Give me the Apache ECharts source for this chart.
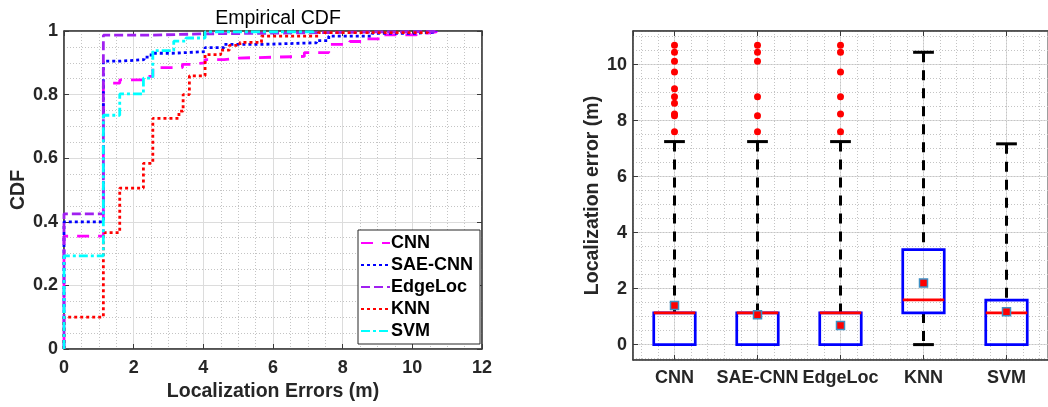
<!DOCTYPE html>
<html>
<head>
<meta charset="utf-8">
<script src="https://cdn.jsdelivr.net/npm/echarts@6/dist/echarts.min.js"></script>
<style>
  html, body { margin: 0; padding: 0; background: #fff; }
  #main { width: 1048px; height: 407px; }
</style>
</head>
<body>
<div id="main"></div>
<script>
// ---- left: empirical CDF, points are [error, cdf]
var cdfCNN = [[0,0],[0,0.355],[1.13,0.836],[1.6,0.846],[2.28,0.857],[2.55,0.885],[3.4,0.895],[3.6,0.9],[4.05,0.91],[4.6,0.915],[5,0.92],[6.9,0.932],[7.6,0.958],[8.2,0.967],[8.6,0.975],[9.1,0.988],[10.1,0.993],[10.44,0.997],[10.69,1]];
var cdfSAE = [[0,0],[0,0.4],[1.13,0.905],[1.6,0.91],[2.3,0.918],[2.5,0.93],[3.1,0.935],[4.05,0.948],[4.6,0.958],[5.7,0.963],[7.25,0.97],[7.6,0.984],[8.85,0.993],[10.12,0.995],[10.44,0.997],[10.69,1]];
var cdfEdge = [[0,0],[0,0.425],[1.13,0.987],[2.5,0.991],[4,0.995],[7.6,0.996],[8.24,0.997],[8.85,0.998],[10.44,0.999],[10.69,1]];
var cdfKNN = [[0,0],[0,0.1],[1.13,0.366],[1.6,0.506],[2.28,0.584],[2.55,0.725],[3.3,0.748],[3.42,0.8],[3.6,0.859],[4.05,0.926],[4.5,0.94],[4.75,0.955],[5.05,0.964],[5.67,0.984],[7.3,0.995],[10.44,1]];
var cdfSVM = [[0,0],[0,0.293],[1.13,0.735],[1.6,0.802],[2.28,0.852],[2.55,0.938],[3.15,0.968],[3.5,0.978],[4.05,0.997],[7.17,1]];

// ---- right: box plot
var boxNames = ['CNN', 'SAE-CNN', 'EdgeLoc', 'KNN', 'SVM'];
var boxLower = [0, 0, 0, 0, 0];
var boxQ1 = [0, 0, 0, 1.13, 0];
var boxMedian = [1.13, 1.13, 1.13, 1.6, 1.13];
var boxQ3 = [1.13, 1.13, 1.13, 3.39, 1.59];
var boxUpper = [7.25, 7.25, 7.25, 10.44, 7.17];
var boxMean = [1.4, 1.07, 0.68, 2.2, 1.17];
var boxOutliers = [
    [7.6, 8.17, 8.24, 8.62, 8.85, 9.14, 9.74, 10.12, 10.44, 10.69],
    [7.6, 8.17, 8.85, 10.12, 10.44, 10.69],
    [7.6, 8.24, 8.85, 9.74, 10.44, 10.69],
    [],
    []
];

var FONT = '"Liberation Sans", Arial, sans-serif';
var TXT = '#262626';
var AXIS = '#3a3a3a';
var MAJOR = '#dcdcdc';
var MINOR = '#c4c4c4';

var boxData = boxNames.map(function (n, i) {
    return [i + 1, boxLower[i], boxQ1[i], boxMedian[i], boxQ3[i], boxUpper[i]];
});
var meanData = boxMean.map(function (v, i) { return [i + 1, v]; });
var outData = [];
boxOutliers.forEach(function (list, i) {
    list.forEach(function (v) { outData.push([i + 1, v]); });
});

function cdfLine(name, data, color, dash) {
    return {
        name: name, type: 'line', data: data, step: 'end',
        xAxisIndex: 0, yAxisIndex: 0,
        symbol: 'none', silent: true,
        lineStyle: { color: color, width: 2.8, type: dash, cap: 'butt' },
        itemStyle: { color: color }
    };
}

var chart = echarts.init(document.getElementById('main'), null, { renderer: 'canvas' });

var option = {
    animation: false,
    textStyle: { fontFamily: FONT },
    title: {
        text: 'Empirical CDF',
        left: 273, top: 4, textAlign: 'center',
        textStyle: { fontSize: 19.5, fontWeight: 'normal', color: '#000', fontFamily: FONT }
    },
    legend: {
        data: ['CNN', 'SAE-CNN', 'EdgeLoc', 'KNN', 'SVM'],
        orient: 'vertical',
        left: 358, top: 230,
        padding: [4, 7, 4, 2],
        itemGap: 4,
        itemWidth: 29, itemHeight: 14,
        backgroundColor: '#fff',
        borderColor: TXT, borderWidth: 1, borderRadius: 0,
        itemStyle: { opacity: 0 },
        textStyle: { fontSize: 18, fontWeight: 'bold', color: '#000', fontFamily: FONT, padding: [0, 0, 0, -4] },
        z: 10
    },
    grid: [
        { left: 64, top: 31, width: 418, height: 320, show: true, borderColor: AXIS, borderWidth: 1 },
        { left: 633, top: 31, width: 418, height: 329, show: true, borderColor: AXIS, borderWidth: 1 }
    ],
    xAxis: [
        {
            gridIndex: 0, type: 'value', min: 0, max: 12, interval: 2,
            name: 'Localization Errors (m)', nameLocation: 'middle', nameGap: 33,
            nameTextStyle: { fontSize: 19.5, fontWeight: 'bold', color: TXT },
            axisLine: { show: true, onZero: false, lineStyle: { color: AXIS, width: 1.5 } },
            axisTick: { show: true, inside: true, length: 5, lineStyle: { color: AXIS } },
            axisLabel: { fontSize: 18, fontWeight: 'bold', color: TXT, margin: 10 },
            splitLine: { show: true, lineStyle: { color: MAJOR, width: 1 } },
            minorTick: { show: false, splitNumber: 4 },
            minorSplitLine: { show: true, lineStyle: { color: MINOR, type: [1, 2], width: 1 } }
        },
        {
            gridIndex: 0, type: 'value', min: 0, max: 12, interval: 2, position: 'top',
            axisLine: { show: true, onZero: false, lineStyle: { color: AXIS, width: 1.5 } },
            axisTick: { show: true, inside: true, length: 5, lineStyle: { color: AXIS } },
            axisLabel: { show: false }, splitLine: { show: false }
        },
        {
            gridIndex: 1, type: 'value', min: 0.5, max: 5.5, splitNumber: 5,
            axisLine: { show: true, onZero: false, lineStyle: { color: AXIS, width: 1.5 } },
            axisTick: { show: true, inside: true, length: 5, lineStyle: { color: AXIS } },
            axisLabel: {
                fontSize: 18, fontWeight: 'bold', color: TXT, margin: 9,
                showMinLabel: false, showMaxLabel: false,
                formatter: function (v) {
                    var i = Math.round(v);
                    return (Math.abs(v - i) < 1e-6 && i >= 1 && i <= 5) ? boxNames[i - 1] : '';
                }
            },
            splitLine: { show: true, lineStyle: { color: MAJOR, width: 1 } }
        },
        {
            gridIndex: 1, type: 'value', min: 0.5, max: 5.5, splitNumber: 5, position: 'top',
            axisLine: { show: true, onZero: false, lineStyle: { color: AXIS, width: 1.5 } },
            axisTick: { show: true, inside: true, length: 5, lineStyle: { color: AXIS } },
            axisLabel: { show: false }, splitLine: { show: false }
        },
        {
            // minor vertical grid, every 0.2 on the box-plot axis (value = 5x)
            gridIndex: 1, type: 'value', min: 2.5, max: 27.5, splitNumber: 25, position: 'top', offset: 30,
            axisLine: { show: false, onZero: false }, axisTick: { show: false }, axisLabel: { show: false },
            splitLine: { show: true, lineStyle: { color: MINOR, type: [1, 2], width: 1 } }
        }
    ],
    yAxis: [
        {
            gridIndex: 0, type: 'value', min: 0, max: 1, interval: 0.2,
            name: 'CDF', nameLocation: 'middle', nameGap: 33,
            nameTextStyle: { fontSize: 19.5, fontWeight: 'bold', color: TXT },
            axisLine: { show: true, onZero: false, lineStyle: { color: AXIS, width: 1.5 } },
            axisTick: { show: true, inside: true, length: 5, lineStyle: { color: AXIS } },
            axisLabel: { fontSize: 18, fontWeight: 'bold', color: TXT, margin: 6 },
            splitLine: { show: true, lineStyle: { color: MAJOR, width: 1 } },
            minorTick: { show: false, splitNumber: 4 },
            minorSplitLine: { show: true, lineStyle: { color: MINOR, type: [1, 2], width: 1 } }
        },
        {
            gridIndex: 0, type: 'value', min: 0, max: 1, interval: 0.2, position: 'right',
            axisLine: { show: true, onZero: false, lineStyle: { color: AXIS, width: 1.5 } },
            axisTick: { show: true, inside: true, length: 5, lineStyle: { color: AXIS } },
            axisLabel: { show: false }, splitLine: { show: false }
        },
        {
            gridIndex: 1, type: 'value', min: -0.55, max: 11.2, splitNumber: 6,
            name: 'Localization error (m)', nameLocation: 'middle', nameGap: 28,
            nameTextStyle: { fontSize: 19.5, fontWeight: 'bold', color: TXT },
            axisLine: { show: true, onZero: false, lineStyle: { color: AXIS, width: 1.5 } },
            axisTick: { show: true, inside: true, length: 5, lineStyle: { color: AXIS } },
            axisLabel: {
                fontSize: 18, fontWeight: 'bold', color: TXT, margin: 6,
                showMinLabel: false, showMaxLabel: false,
                formatter: function (v) {
                    return (Math.abs(v / 2 - Math.round(v / 2)) < 1e-6) ? String(Math.round(v)) : '';
                }
            },
            splitLine: { show: true, lineStyle: { color: MAJOR, width: 1 } }
        },
        {
            // minor horizontal grid, every 0.5 (value = 2y)
            gridIndex: 1, type: 'value', min: -1.1, max: 22.4, splitNumber: 24, position: 'right', offset: 40,
            axisLine: { show: false, onZero: false }, axisTick: { show: false }, axisLabel: { show: false },
            splitLine: { show: true, lineStyle: { color: MINOR, type: [1, 2], width: 1 } }
        }
    ],
    series: [
        cdfLine('CNN', cdfCNN, '#ff00ff', [12, 9]),
        cdfLine('SAE-CNN', cdfSAE, '#0000ff', [3, 3]),
        cdfLine('EdgeLoc', cdfEdge, '#a020f0', [9, 4]),
        cdfLine('KNN', cdfKNN, '#ff0000', [3, 3]),
        cdfLine('SVM', cdfSVM, '#00ffff', [9, 3, 3, 3]),
        {
            type: 'custom', xAxisIndex: 2, yAxisIndex: 2, silent: true,
            data: boxData, z: 3,
            renderItem: function (params, api) {
                var x = api.value(0);
                var lo = api.value(1), q1 = api.value(2), med = api.value(3), q3 = api.value(4), hi = api.value(5);
                var halfBox = api.size([0.25, 0])[0];
                var halfCap = api.size([0.125, 0])[0];
                var pLo = api.coord([x, lo]), pQ1 = api.coord([x, q1]), pMed = api.coord([x, med]);
                var pQ3 = api.coord([x, q3]), pHi = api.coord([x, hi]);
                var cx = pMed[0];
                var dashStyle = { stroke: '#000', lineWidth: 3, lineDash: [10, 8] };
                var capStyle = { stroke: '#000', lineWidth: 3 };
                var children = [];
                children.push({ type: 'line', shape: { x1: cx, y1: pHi[1], x2: cx, y2: pQ3[1] }, style: dashStyle });
                children.push({ type: 'line', shape: { x1: cx - halfCap, y1: pHi[1], x2: cx + halfCap, y2: pHi[1] }, style: capStyle });
                if (q1 > lo) {
                    children.push({ type: 'line', shape: { x1: cx, y1: pQ1[1], x2: cx, y2: pLo[1] }, style: dashStyle });
                    children.push({ type: 'line', shape: { x1: cx - halfCap, y1: pLo[1], x2: cx + halfCap, y2: pLo[1] }, style: capStyle });
                }
                children.push({
                    type: 'rect',
                    shape: { x: cx - halfBox, y: pQ3[1], width: halfBox * 2, height: pQ1[1] - pQ3[1] },
                    style: { fill: 'none', stroke: '#0000ff', lineWidth: 2.7 }
                });
                children.push({ type: 'line', shape: { x1: cx - halfBox, y1: pMed[1], x2: cx + halfBox, y2: pMed[1] }, style: { stroke: '#ff0000', lineWidth: 2.7 } });
                return { type: 'group', children: children };
            }
        },
        {
            type: 'scatter', xAxisIndex: 2, yAxisIndex: 2, silent: true, z: 4,
            data: outData, symbol: 'circle', symbolSize: 7,
            itemStyle: { color: '#ff0000', opacity: 1 }
        },
        {
            type: 'scatter', xAxisIndex: 2, yAxisIndex: 2, silent: true, z: 5,
            data: meanData, symbol: 'rect', symbolSize: 8,
            itemStyle: { color: '#ff0000', borderColor: '#3d8fc4', borderWidth: 1.5, opacity: 1 }
        }
    ]
};

chart.setOption(option);
</script>
</body>
</html>
